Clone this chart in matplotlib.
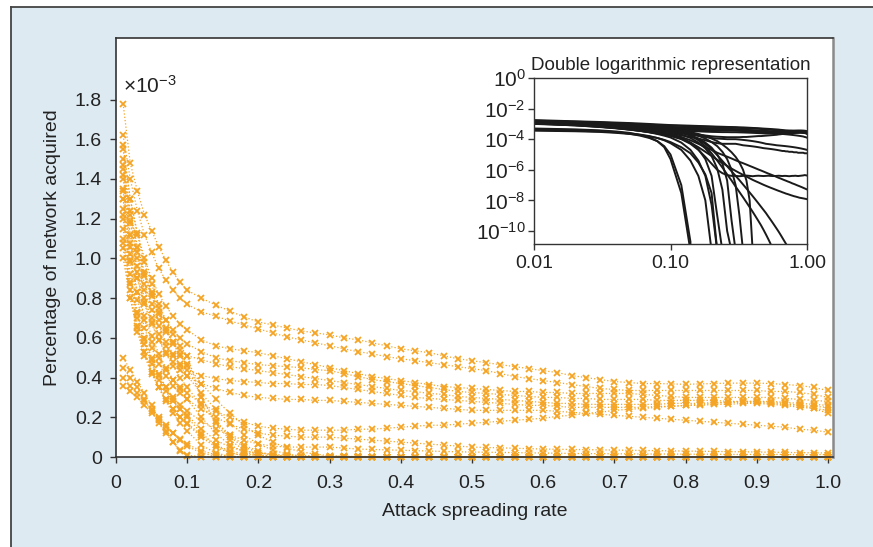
import matplotlib
matplotlib.use("Agg")
import matplotlib.pyplot as plt
from matplotlib.patches import Rectangle
from matplotlib.lines import Line2D
import numpy as np

plt.rcParams['font.family'] = ['Liberation Sans', 'DejaVu Sans']
plt.rcParams['mathtext.fontset'] = 'custom'
plt.rcParams['mathtext.rm'] = 'Liberation Sans'
plt.rcParams['mathtext.it'] = 'Liberation Sans:italic'
plt.rcParams['mathtext.bf'] = 'Liberation Sans:bold'

ORANGE = '#f5a526'
TEXT = '#222222'
FS = 14

# attack spreading rate
X = [0.01, 0.02, 0.03, 0.04, 0.05, 0.06, 0.07, 0.08, 0.09, 0.10,
     0.12, 0.14, 0.16, 0.18, 0.20, 0.22, 0.24, 0.26, 0.28, 0.30,
     0.32, 0.34, 0.36, 0.38, 0.40, 0.42, 0.44, 0.46, 0.48, 0.50,
     0.52, 0.54, 0.56, 0.58, 0.60, 0.62, 0.64, 0.66, 0.68, 0.70,
     0.72, 0.74, 0.76, 0.78, 0.80, 0.82, 0.84, 0.86, 0.88, 0.90,
     0.92, 0.94, 0.96, 0.98, 1.00]

# percentage of network acquired, in units of 1e-3
# runs that keep a share of the network up to rate 1.0
a1 = [1.78, 1.48, 1.34, 1.22, 1.14, 1.06, 0.99, 0.93, 0.88, 0.84,
      0.80, 0.765, 0.735, 0.705, 0.68, 0.665, 0.65, 0.635, 0.625, 0.615,
      0.60, 0.59, 0.575, 0.56, 0.545, 0.535, 0.525, 0.51, 0.495, 0.485,
      0.475, 0.465, 0.455, 0.445, 0.435, 0.425, 0.41, 0.40, 0.39, 0.38,
      0.375, 0.37, 0.37, 0.368, 0.366, 0.368, 0.37, 0.372, 0.372, 0.372,
      0.37, 0.365, 0.36, 0.35, 0.335]
a2 = [1.62, 1.40, 1.24, 1.12, 1.03, 0.95, 0.89, 0.84, 0.80, 0.77,
      0.73, 0.71, 0.685, 0.665, 0.645, 0.625, 0.605, 0.59, 0.575, 0.56,
      0.545, 0.53, 0.52, 0.505, 0.495, 0.485, 0.475, 0.465, 0.455, 0.445,
      0.435, 0.42, 0.405, 0.395, 0.385, 0.375, 0.365, 0.355, 0.345, 0.34,
      0.335, 0.335, 0.335, 0.335, 0.335, 0.335, 0.335, 0.335, 0.335, 0.335,
      0.33, 0.33, 0.325, 0.315, 0.30]
a3 = [1.55, 1.30, 1.13, 1.00, 0.90, 0.82, 0.76, 0.71, 0.67, 0.64,
      0.59, 0.56, 0.545, 0.535, 0.525, 0.51, 0.495, 0.48, 0.465, 0.45,
      0.435, 0.42, 0.405, 0.395, 0.385, 0.375, 0.365, 0.355, 0.35, 0.345,
      0.34, 0.335, 0.33, 0.33, 0.325, 0.325, 0.32, 0.32, 0.32, 0.32,
      0.32, 0.315, 0.31, 0.305, 0.30, 0.30, 0.30, 0.30, 0.30, 0.30,
      0.30, 0.295, 0.29, 0.285, 0.28]
a4 = [1.50, 1.24, 1.06, 0.93, 0.83, 0.75, 0.69, 0.64, 0.60, 0.57,
      0.53, 0.50, 0.485, 0.475, 0.465, 0.46, 0.455, 0.45, 0.44, 0.435,
      0.42, 0.405, 0.39, 0.38, 0.37, 0.36, 0.35, 0.34, 0.33, 0.325,
      0.32, 0.315, 0.31, 0.305, 0.30, 0.30, 0.295, 0.295, 0.29, 0.29,
      0.29, 0.29, 0.285, 0.285, 0.285, 0.285, 0.285, 0.28, 0.28, 0.28,
      0.28, 0.275, 0.27, 0.265, 0.26]
a5 = [1.45, 1.18, 1.00, 0.87, 0.77, 0.69, 0.63, 0.58, 0.54, 0.51,
      0.49, 0.47, 0.455, 0.445, 0.435, 0.425, 0.415, 0.405, 0.395, 0.385,
      0.375, 0.365, 0.355, 0.345, 0.335, 0.33, 0.32, 0.315, 0.305, 0.30,
      0.295, 0.29, 0.285, 0.28, 0.275, 0.27, 0.27, 0.265, 0.265, 0.265,
      0.265, 0.265, 0.265, 0.27, 0.27, 0.27, 0.275, 0.275, 0.275, 0.275,
      0.27, 0.265, 0.26, 0.255, 0.25]
a6 = [1.40, 1.12, 0.93, 0.80, 0.70, 0.62, 0.56, 0.51, 0.47, 0.44,
      0.41, 0.395, 0.385, 0.38, 0.375, 0.37, 0.37, 0.365, 0.365, 0.36,
      0.35, 0.34, 0.33, 0.32, 0.31, 0.30, 0.295, 0.29, 0.285, 0.28,
      0.275, 0.27, 0.265, 0.26, 0.26, 0.255, 0.25, 0.25, 0.25, 0.25,
      0.25, 0.25, 0.255, 0.255, 0.26, 0.26, 0.265, 0.265, 0.27, 0.27,
      0.265, 0.26, 0.25, 0.245, 0.235]
a7 = [1.30, 1.02, 0.83, 0.69, 0.58, 0.50, 0.44, 0.39, 0.35, 0.32,
      0.27, 0.23, 0.20, 0.175, 0.155, 0.145, 0.14, 0.135, 0.135, 0.135,
      0.135, 0.14, 0.14, 0.145, 0.15, 0.155, 0.16, 0.16, 0.165, 0.17,
      0.175, 0.18, 0.185, 0.19, 0.195, 0.205, 0.21, 0.22, 0.225, 0.235,
      0.24, 0.245, 0.25, 0.255, 0.26, 0.265, 0.27, 0.275, 0.28, 0.28,
      0.275, 0.27, 0.26, 0.245, 0.22]
a8 = [1.34, 1.08, 0.90, 0.77, 0.67, 0.59, 0.53, 0.48, 0.44, 0.41,
      0.37, 0.345, 0.325, 0.31, 0.30, 0.295, 0.29, 0.29, 0.285, 0.285,
      0.28, 0.275, 0.27, 0.265, 0.26, 0.255, 0.25, 0.245, 0.24, 0.235,
      0.235, 0.235, 0.235, 0.235, 0.235, 0.23, 0.225, 0.22, 0.215, 0.21,
      0.205, 0.20, 0.195, 0.19, 0.185, 0.18, 0.175, 0.17, 0.165, 0.16,
      0.155, 0.15, 0.14, 0.135, 0.125]
a9 = [1.25, 0.98, 0.79, 0.65, 0.55, 0.47, 0.41, 0.36, 0.32, 0.29,
      0.24, 0.20, 0.165, 0.14, 0.12, 0.11, 0.105, 0.10, 0.10, 0.10,
      0.095, 0.09, 0.085, 0.08, 0.075, 0.07, 0.065, 0.06, 0.055, 0.05,
      0.048, 0.046, 0.044, 0.042, 0.04, 0.039, 0.038, 0.037, 0.036, 0.035,
      0.034, 0.033, 0.032, 0.031, 0.03, 0.029, 0.028, 0.027, 0.026, 0.025,
      0.024, 0.023, 0.022, 0.021, 0.02]
a10 = [1.20, 0.92, 0.73, 0.59, 0.49, 0.41, 0.35, 0.30, 0.26, 0.23,
       0.18, 0.14, 0.11, 0.085, 0.065, 0.055, 0.05, 0.05, 0.05, 0.05,
       0.045, 0.04, 0.038, 0.036, 0.034, 0.032, 0.03, 0.028, 0.026, 0.025,
       0.024, 0.023, 0.022, 0.021, 0.02, 0.019, 0.018, 0.017, 0.017, 0.016,
       0.016, 0.015, 0.015, 0.015, 0.014, 0.014, 0.014, 0.013, 0.013, 0.013,
       0.013, 0.013, 0.012, 0.012, 0.012]
a11 = [1.10, 0.84, 0.66, 0.53, 0.43, 0.35, 0.29, 0.24, 0.20, 0.165,
       0.10, 0.05, 0.02, 0.007, 0.0025, 0.001, 6e-4, 4.5e-4, 4e-4, 4e-4,
       3.8e-4, 4e-4, 4.2e-4, 4e-4, 3.8e-4, 4e-4, 4.1e-4, 4e-4, 3.9e-4, 4e-4,
       4.1e-4, 4e-4, 3.9e-4, 3.9e-4, 4e-4, 4.1e-4, 4e-4, 3.9e-4, 4e-4, 4e-4,
       3.9e-4, 3.8e-4, 3.9e-4, 4e-4, 4e-4, 4.1e-4, 4e-4, 3.9e-4, 4e-4, 4.1e-4,
       4.2e-4, 4.3e-4, 4.5e-4, 4.4e-4, 4.2e-4]
a12 = [1.15, 0.88, 0.70, 0.57, 0.47, 0.39, 0.33, 0.28, 0.24, 0.21,
       0.14, 0.085, 0.05, 0.03, 0.02, 0.013, 0.0095, 0.0072, 0.0055, 0.0042,
       0.0033, 0.0027, 0.0022, 0.0018, 0.0015, 0.00125, 0.00105, 9e-4, 7.7e-4, 6.6e-4,
       5.7e-4, 5e-4, 4.4e-4, 3.9e-4, 3.4e-4, 3e-4, 2.7e-4, 2.4e-4, 2.15e-4, 1.95e-4,
       1.75e-4, 1.6e-4, 1.45e-4, 1.3e-4, 1.2e-4, 1.1e-4, 1e-4, 9.2e-5, 8.5e-5, 7.8e-5,
       7.2e-5, 6.6e-5, 6.1e-5, 5.6e-5, 5.2e-5]
a13 = [1.05, 0.80, 0.63, 0.51, 0.42, 0.35, 0.29, 0.24, 0.20, 0.17,
       0.11, 0.06, 0.03, 0.015, 0.008, 0.0045, 0.0028, 0.0018, 0.0012, 8.5e-4,
       6.2e-4, 4.7e-4, 3.6e-4, 2.8e-4, 2.2e-4, 1.8e-4, 1.5e-4, 1.25e-4, 1.05e-4, 9e-5,
       7.8e-5, 6.8e-5, 6e-5, 5.3e-5, 4.7e-5, 4.2e-5, 3.8e-5, 3.4e-5, 3.1e-5, 2.8e-5,
       2.6e-5, 2.4e-5, 2.2e-5, 2.05e-5, 1.9e-5, 1.8e-5, 1.7e-5, 1.6e-5, 1.5e-5, 1.45e-5,
       1.4e-5, 1.35e-5, 1.3e-5, 1.25e-5, 1.2e-5]

# runs that die out (values after the listed ones are zero)
d1 = [0.50, 0.44, 0.38, 0.32, 0.26, 0.19, 0.13, 0.075, 0.03, 0.005,
      3e-5, 5e-9]
d2 = [0.45, 0.40, 0.35, 0.29, 0.23, 0.17, 0.12, 0.075, 0.035, 0.01,
      1e-4, 2e-8]
d3 = [0.40, 0.36, 0.32, 0.28, 0.24, 0.20, 0.16, 0.12, 0.085, 0.055,
      0.02, 0.004, 4e-4, 1e-5, 5e-9]
d4 = [0.36, 0.33, 0.30, 0.26, 0.22, 0.185, 0.15, 0.12, 0.09, 0.065,
      0.03, 0.012, 0.003, 5e-4, 3e-5, 5e-9]
d5 = [1.00, 0.80, 0.65, 0.53, 0.43, 0.35, 0.28, 0.22, 0.17, 0.13,
      0.06, 0.02, 0.004, 4e-4, 5e-6, 5e-9]
d6 = [1.08, 0.87, 0.72, 0.60, 0.50, 0.42, 0.35, 0.29, 0.24, 0.20,
      0.12, 0.06, 0.022, 0.005, 4e-4, 1e-6, 5e-9]
d7 = [1.22, 0.99, 0.83, 0.71, 0.61, 0.52, 0.45, 0.39, 0.34, 0.29,
      0.20, 0.12, 0.06, 0.025, 0.008, 0.0012, 5e-5, 1e-7, 5e-9]
d8 = [1.30, 1.06, 0.90, 0.78, 0.68, 0.59, 0.52, 0.46, 0.40, 0.35,
      0.26, 0.18, 0.11, 0.06, 0.028, 0.01, 0.0025, 2e-4, 5e-7, 5e-9]
d9 = [1.35, 1.12, 0.96, 0.84, 0.74, 0.66, 0.58, 0.52, 0.46, 0.41,
      0.32, 0.24, 0.17, 0.11, 0.065, 0.035, 0.015, 0.005, 0.001, 1e-4,
      1e-6, 5e-9]
d10 = [1.42, 1.19, 1.03, 0.91, 0.81, 0.72, 0.64, 0.57, 0.51, 0.46,
       0.37, 0.29, 0.22, 0.16, 0.11, 0.075, 0.045, 0.026, 0.014, 0.007,
       0.003, 0.001, 2e-4, 1e-5, 5e-9]
d11 = [1.57, 1.30, 1.12, 0.98, 0.87, 0.77, 0.69, 0.62, 0.56, 0.51,
       0.30, 0.17, 0.085, 0.035, 0.012, 0.004, 0.0014, 5e-4, 2e-4, 8e-5,
       3.5e-5, 1.6e-5, 7.5e-6, 3.6e-6, 1.8e-6, 9e-7, 4.6e-7, 2.4e-7, 1.2e-7, 6e-8,
       3e-8, 1.5e-8, 5e-9]
d12 = [1.47, 1.22, 1.05, 0.92, 0.82, 0.73, 0.65, 0.58, 0.52, 0.47,
       0.30, 0.18, 0.10, 0.05, 0.022, 0.009, 0.0038, 0.0017, 8e-4, 4e-4,
       2.1e-4, 1.1e-4, 6e-5, 3.3e-5, 1.9e-5, 1.1e-5, 6.5e-6, 3.9e-6, 2.4e-6, 1.5e-6,
       9e-7, 5.6e-7, 3.5e-7, 2.2e-7, 1.4e-7, 9e-8, 5.7e-8, 3.6e-8, 2.3e-8, 1.5e-8,
       1e-8, 5e-9]

XTICKS = [0, 0.1, 0.2, 0.3, 0.4, 0.5, 0.6, 0.7, 0.8, 0.9, 1.0]
XTICKLABELS = ['0', '0.1', '0.2', '0.3', '0.4', '0.5', '0.6', '0.7', '0.8', '0.9', '1.0']
YTICKS = [0, 0.2, 0.4, 0.6, 0.8, 1.0, 1.2, 1.4, 1.6, 1.8]
YTICKLABELS = ['0', '0.2', '0.4', '0.6', '0.8', '1.0', '1.2', '1.4', '1.6', '1.8']
INSET_XTICKS = [0.01, 0.1, 1.0]
INSET_XTICKLABELS = ['0.01', '0.10', '1.00']
INSET_YTICKS = [1e0, 1e-2, 1e-4, 1e-6, 1e-8, 1e-10]


def pad(vals):
    return vals + [0.0] * (len(X) - len(vals))


def main():
    survivors = [a1, a2, a3, a4, a5, a6, a7, a8, a9, a10, a11, a12, a13]
    dying = [d1, d2, d3, d4, d5, d6, d7, d8, d9, d10, d11, d12]
    runs = [np.array(s) for s in survivors] + [np.array(pad(s)) for s in dying]

    W, H = 873, 547
    fig = plt.figure(figsize=(W / 100, H / 100), dpi=100, facecolor='white')
    fig.patches.append(Rectangle((11 / W, 0), 1, 1 - 6.5 / H, transform=fig.transFigure,
                                 facecolor='#deeaf2', edgecolor='none', zorder=-10))
    fig.lines.append(Line2D([11 / W, 11 / W], [0, 1 - 6.5 / H], transform=fig.transFigure,
                            color='#444444', lw=1.3))
    fig.lines.append(Line2D([11 / W, 1], [1 - 6.5 / H, 1 - 6.5 / H], transform=fig.transFigure,
                            color='#444444', lw=1.3))

    # main panel
    ax = fig.add_axes([116 / W, 90 / H, 717 / W, 419 / H])
    ax.set_facecolor('white')
    for r in runs:
        ax.plot(X, r, ls=':', lw=0.9, color=ORANGE, marker='x', ms=4,
                mew=1.3, clip_on=False)
    ax.set_xlim(0, 1.007)
    ax.set_ylim(0, 2.11)
    ax.set_xticks(XTICKS)
    ax.set_xticklabels(XTICKLABELS)
    ax.set_yticks(YTICKS)
    ax.set_yticklabels(YTICKLABELS)
    ax.tick_params(axis='both', direction='out', length=4, width=1, colors='#333333',
                   labelcolor=TEXT, labelsize=FS)
    ax.tick_params(axis='x', pad=9)
    ax.tick_params(axis='y', pad=6)
    for side in ['left', 'top', 'bottom']:
        ax.spines[side].set_color('#333333')
        ax.spines[side].set_linewidth(1.2)
    ax.spines['right'].set_color('#8a8a8a')
    ax.spines['right'].set_linewidth(1.8)
    ax.set_xlabel('Attack spreading rate', fontsize=FS, color=TEXT, labelpad=8)
    ax.set_ylabel('Percentage of network acquired', fontsize=FS, color=TEXT, labelpad=10)
    ax.text(0.01, 0.87, r'$\times10^{-3}$', transform=ax.transAxes, fontsize=FS + 1,
            color=TEXT, ha='left', va='baseline')

    # inset, double logarithmic
    ins = fig.add_axes([534 / W, (H - 244) / H, 273 / W, 166 / H])
    ins.set_xscale('log')
    ins.set_yscale('log')
    for r in runs:
        ins.plot(X, r * 1e-3, color='#1a1a1a', lw=1.4)
    ins.set_xlim(0.01, 1.0)
    ins.set_ylim(10 ** -10.85, 1.0)
    ins.set_xticks(INSET_XTICKS)
    ins.set_xticklabels(INSET_XTICKLABELS)
    ins.set_yticks(INSET_YTICKS)
    ins.minorticks_off()
    ins.tick_params(axis='both', direction='out', length=4, width=1, colors='#333333',
                    labelcolor=TEXT, labelsize=FS)
    ins.tick_params(axis='y', labelsize=FS + 1, pad=2)
    ins.tick_params(axis='x', pad=4)
    for side in ins.spines:
        ins.spines[side].set_color('#333333')
        ins.spines[side].set_linewidth(1.0)
    ins.set_title('Double logarithmic representation', fontsize=FS - 0.5, color=TEXT, pad=6)

    fig.savefig('out.png', dpi=100)


if __name__ == "__main__":
    main()
